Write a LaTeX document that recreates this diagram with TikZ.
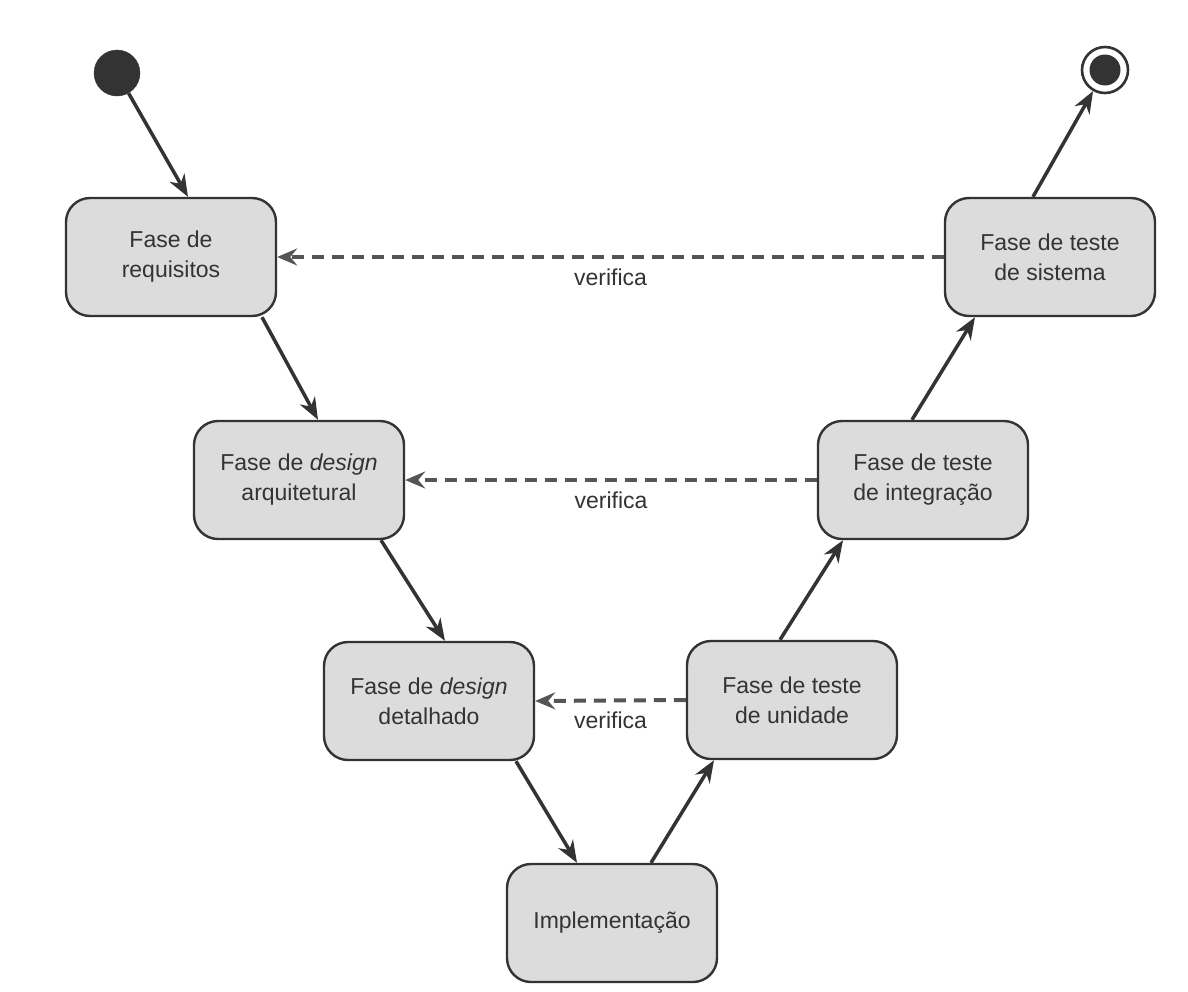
\documentclass[tikz,border=0pt]{standalone}
\usepackage{fontspec}
\setmainfont{Liberation Sans}
\usetikzlibrary{arrows.meta,backgrounds}
\definecolor{ink}{HTML}{333333}
\definecolor{boxfill}{HTML}{DCDCDC}
\definecolor{dashink}{HTML}{555555}
\begin{document}
\begin{tikzpicture}[x=1pt,y=-1pt,
  phase/.style={draw=ink,line width=2.4pt,fill=boxfill,rounded corners=24pt,
    minimum width=210pt,minimum height=118pt,align=center,text=ink,
    font=\fontsize{23}{30}\selectfont},
  flow/.style={draw=ink,line width=3.5pt,-{Stealth[length=22pt,width=17pt,inset=7pt]}},
  check/.style={draw=dashink,line width=4pt,dash pattern=on 12pt off 8pt,
    -{Stealth[length=20pt,width=17pt,inset=7pt]}},
  lbl/.style={text=ink,font=\fontsize{23}{30}\selectfont},
  startdot/.style={circle,fill=ink,draw=ink,minimum size=46pt,inner sep=0pt},
  enddot/.style={circle,draw=ink,line width=2.6pt,fill=white,minimum size=46pt,inner sep=0pt,
    path picture={\fill[ink] (path picture bounding box.center) circle (15.5pt);}}
]
\useasboundingbox (0,0) rectangle (1188,991);

% phases of the V
\node[startdot] (start) at (117,73) {};
\node[enddot] (stop) at (1105,70) {};
\node[phase] (req) at (171,257) {Fase de\\requisitos};
\node[phase] (arq) at (299,480) {Fase de \textit{design}\\arquitetural};
\node[phase] (det) at (429,701) {Fase de \textit{design}\\detalhado};
\node[phase] (imp) at (612,923) {Implementação};
\node[phase] (uni) at (792,700) {Fase de teste\\de unidade};
\node[phase] (int) at (923,480) {Fase de teste\\de integração};
\node[phase] (sis) at (1050,257) {Fase de teste\\de sistema};

\begin{scope}[on background layer]
  \fill[white] (0,0) rectangle (1188,991);
  % descending branch
  \draw[flow] (start) -- ([xshift=17pt]req.north);
  \draw[flow] ([xshift=91pt]req.south) -- ([xshift=19pt]arq.north);
  \draw[flow] ([xshift=82pt]arq.south) -- ([xshift=16pt]det.north);
  \draw[flow] ([xshift=87pt]det.south) -- ([xshift=-35pt]imp.north);
  % ascending branch
  \draw[flow] ([xshift=39pt]imp.north) -- ([xshift=-78pt]uni.south);
  \draw[flow] ([xshift=-12pt]uni.north) -- ([xshift=-80pt]int.south);
  \draw[flow] ([xshift=-11pt]int.north) -- ([xshift=-75pt]sis.south);
  \draw[flow] ([xshift=-17pt]sis.north) -- (stop);
\end{scope}

% verification links
\draw[check] (sis.west) -- (req.east) node[lbl,midway,below=6pt] {verifica};
\draw[check] (int.west) -- (arq.east) node[lbl,midway,below=6pt] {verifica};
\draw[check] (uni.west) -- (det.east) node[lbl,midway,below=6pt] {verifica};
\end{tikzpicture}
\end{document}
